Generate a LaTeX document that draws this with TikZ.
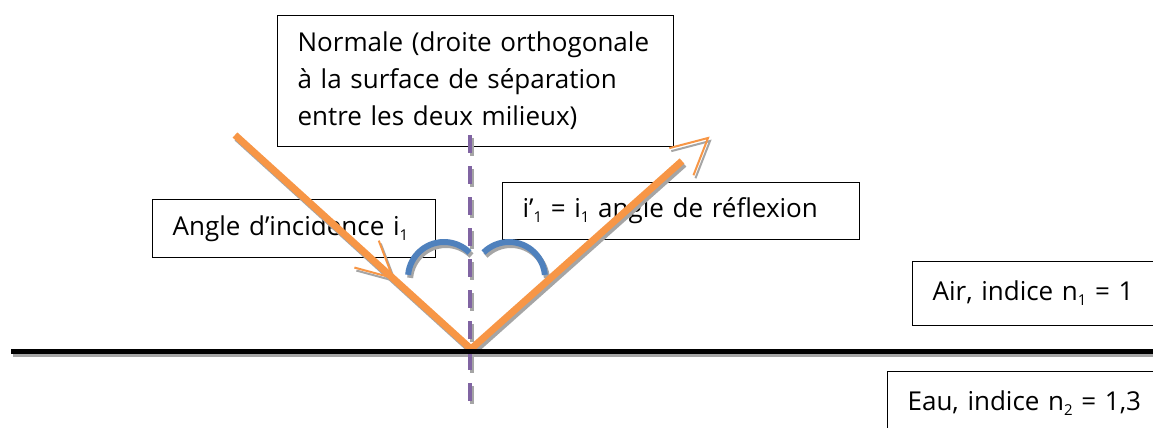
\documentclass[tikz,border=0pt]{standalone}
\usepackage{fontspec}
\setmainfont{Open Sans}
\usetikzlibrary{calc}
\definecolor{rayor}{RGB}{247,150,70}
\definecolor{arcblue}{RGB}{79,129,189}
\definecolor{normpurple}{RGB}{128,100,162}
\definecolor{shadowgray}{RGB}{165,165,165}
\newcommand\lowsub[1]{\raisebox{-5pt}{\fontsize{15}{15}\selectfont #1}}
\newcommand\opticsgeom[4]{%
  \draw[line width=7pt, #1, line join=miter] (inA) -- (O) -- (rEnd);
  \draw[line width=2pt, #1] ($(iTip)!40pt!27:(inA)$) -- (iTip) -- ($(iTip)!40pt!-27:(inA)$);
  \draw[line width=2pt, #1] ($(rTip)!40pt!27:(O)$) -- (rTip) -- ($(rTip)!40pt!-27:(O)$);
  \draw[line width=6pt, #2] ($(lc)+(-175:36)$) arc[start angle=-175, end angle=-45, radius=36];
  \draw[line width=6pt, #2] ($(rc)+(-135:36)$) arc[start angle=-135, end angle=-5, radius=36];
  \draw[line width=4pt, #3, dash pattern=on 18pt off 13pt] (n1) -- (n2);
  \draw[line width=5pt, #4] (s1) -- (s2);
}
\begin{document}
\begin{tikzpicture}[x=1pt,y=-1pt,
  lbl/.style={draw=black, line width=1.2pt, rectangle, anchor=north west,
    inner xsep=20pt, inner ysep=0pt, align=left, fill=white,
    font=\fontsize{26}{37}\selectfont}]
\path[use as bounding box] (0,0) rectangle (1153,428);
\clip (0,0) rectangle (1153,428);
\fill[white] (0,0) rectangle (1153,428);

% boxes
\node[lbl, text width=356pt, minimum height=131pt] (normale) at (277,15)
  {Normale (droite orthogonale\\à la surface de séparation\\entre les deux milieux)};
\node[lbl, text width=243pt, minimum height=58pt] (incid) at (152,199)
  {Angle d’incidence i\lowsub{1}};
\node[lbl, text width=317pt, minimum height=57pt] (refl) at (502,182)
  {i’\lowsub{1} = i\lowsub{1} angle de réflexion};
\node[lbl, text width=240pt, minimum height=64pt] (air) at (912,261)
  {Air, indice n\lowsub{1} = 1};
\node[lbl, text width=260pt, minimum height=64pt] (eau) at (887,371)
  {Eau, indice n\lowsub{2} = 1,3};

% geometry
\coordinate (inA) at (235,135);
\coordinate (O) at (471,349);
\coordinate (rEnd) at (682,161);
\coordinate (rTip) at (708,138);
\coordinate (iTip) at (393,278);
\coordinate (s1) at (11,351.5);
\coordinate (s2) at (1160,351.5);
\coordinate (n1) at (470,135);
\coordinate (n2) at (470,412);
\coordinate (lc) at (444,278);
\coordinate (rc) at (509,278);

\begin{scope}[transform canvas={shift={(2,3)}}]
  \opticsgeom{shadowgray}{shadowgray}{shadowgray}{shadowgray}
\end{scope}
\opticsgeom{rayor}{arcblue}{normpurple}{black}
\end{tikzpicture}
\end{document}
